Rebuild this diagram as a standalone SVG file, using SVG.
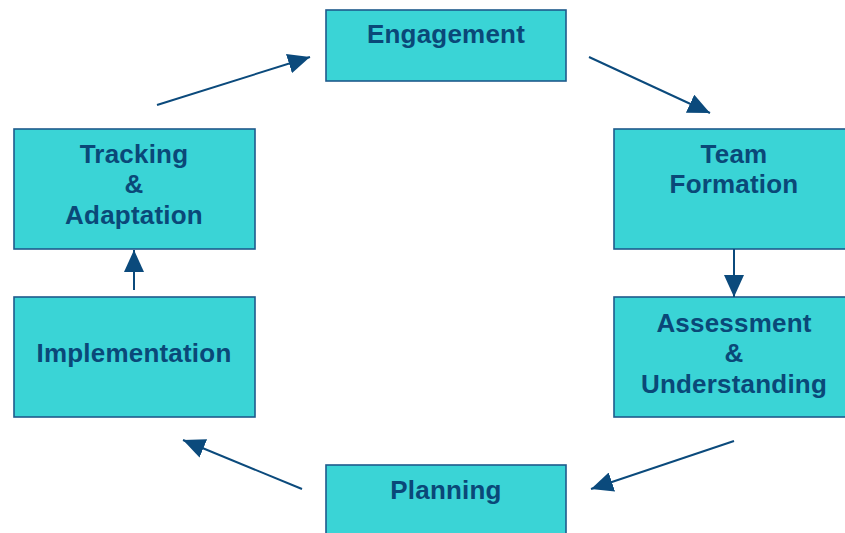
<svg xmlns="http://www.w3.org/2000/svg" width="845" height="533" viewBox="0 0 845 533">
<defs>
<style>
.box{fill:#3AD4D6;stroke:#1F5A8C;stroke-width:1.6}
.lbl{font-family:"Liberation Sans",Arial,sans-serif;font-weight:bold;font-size:26px;fill:#0A4878;text-anchor:middle;letter-spacing:0.2px}
.con{stroke:#0B4A7C;stroke-width:2;fill:none;marker-end:url(#ah)}
</style>
<marker id="ah" markerUnits="userSpaceOnUse" markerWidth="22" markerHeight="20" refX="22" refY="10" orient="auto" viewBox="0 0 22 20">
<path d="M0,0 L22,10 L0,20 z" fill="#0B4A7C"/>
</marker>
</defs>
<rect width="845" height="533" fill="#ffffff"/>
<g id="engagement">
<rect class="box" x="326" y="10" width="240" height="71"/>
<text class="lbl" x="446" y="43">Engagement</text>
</g>
<g id="team-formation">
<rect class="box" x="614" y="129" width="240" height="120"/>
<text class="lbl" x="734" y="163">Team</text>
<text class="lbl" x="734" y="193">Formation</text>
</g>
<g id="assessment">
<rect class="box" x="614" y="297" width="240" height="120"/>
<text class="lbl" x="734" y="332">Assessment</text>
<text class="lbl" x="734" y="362">&amp;</text>
<text class="lbl" x="734" y="393">Understanding</text>
</g>
<g id="planning">
<rect class="box" x="326" y="465" width="240" height="80"/>
<text class="lbl" x="446" y="499">Planning</text>
</g>
<g id="implementation">
<rect class="box" x="14" y="297" width="241" height="120"/>
<text class="lbl" x="134" y="362">Implementation</text>
</g>
<g id="tracking">
<rect class="box" x="14" y="129" width="241" height="120"/>
<text class="lbl" x="134" y="163">Tracking</text>
<text class="lbl" x="134" y="193">&amp;</text>
<text class="lbl" x="134" y="224">Adaptation</text>
</g>
<g id="connectors">
<line class="con" x1="157" y1="105" x2="310" y2="57"/>
<line class="con" x1="589" y1="57" x2="710" y2="113"/>
<line class="con" x1="734" y1="249" x2="734" y2="297"/>
<line class="con" x1="734" y1="441" x2="591" y2="489"/>
<line class="con" x1="302" y1="489" x2="183" y2="440"/>
<line class="con" x1="134" y1="290" x2="134" y2="250"/>
</g>
</svg>
